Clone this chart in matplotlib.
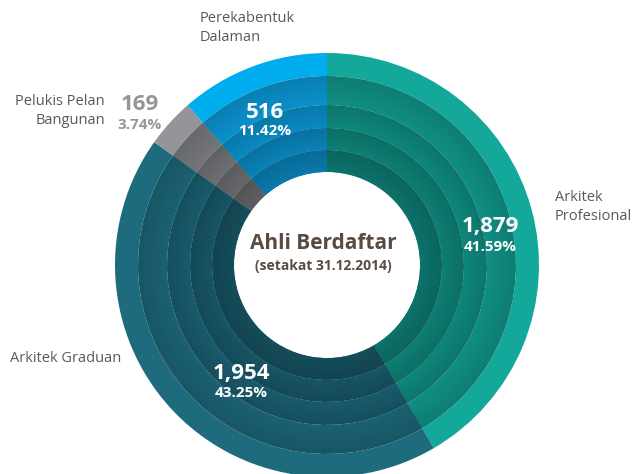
import matplotlib.pyplot as plt
import matplotlib.colors as mcolors
import numpy as np

plt.rcParams['font.family'] = ['Open Sans', 'DejaVu Sans']

# data
categories = ['Arkitek Profesional', 'Arkitek Graduan', 'Pelukis Pelan Bangunan', 'Perekabentuk Dalaman']
counts = [1879, 1954, 169, 516]
count_labels = ['1,879', '1,954', '169', '516']
percent_labels = ['41.59%', '43.25%', '3.74%', '11.42%']

# colours: outer band, then the four inner bands (outside -> inside)
outer_colors = ['#13a89a', '#1d6b7d', '#939598', '#00aeef']
inner_colors = [
    ['#0f8b80', '#0e8378', '#0d7b71', '#0c7068'],
    ['#1a5f6f', '#185868', '#165262', '#144b59'],
    ['#727376', '#6b6c6f', '#646568', '#5c5d60'],
    ['#0a8dc6', '#0986bd', '#097eb3', '#0976a8'],
]

W, H = 632, 474
cx, cy = 327, H - 265
r_hole = 93
radii = [115, 137, 160, 189, 212]   # band edges, inside -> outside

fig = plt.figure(figsize=(W / 100, H / 100), dpi=100)
ax = fig.add_axes([0, 0, 1, 1])


def shade(c, f):
    rgb = np.array(mcolors.to_rgb(c))
    return np.clip(rgb * f, 0, 1)


# outer band
ax.pie(counts, radius=radii[4], center=(cx, cy), startangle=90, counterclock=False,
       colors=outer_colors, wedgeprops=dict(width=radii[4] - radii[3], linewidth=0))

# inner bands, each with a soft shadow towards its outer edge
edges = [r_hole] + radii[:4]
for b in range(4):
    r_in = edges[3 - b]
    r_out = edges[4 - b]
    steps = 24
    for s in range(steps):
        t = s / (steps - 1)
        r1 = r_out - (r_out - r_in) * s / steps
        cols = [shade(inner_colors[k][b], 0.9 + 0.12 * t) for k in range(4)]
        w = (r_out - r_in) / steps + (0.8 if s < steps - 1 else 0)
        ax.pie(counts, radius=r1, center=(cx, cy), startangle=90, counterclock=False,
               colors=cols, wedgeprops=dict(width=w, linewidth=0))

ax.set_xlim(0, W)
ax.set_ylim(0, H)
ax.set_aspect('equal')
ax.axis('off')

# centre title
ax.text(cx - 4, H - 243, 'Ahli Berdaftar', ha='center', va='center', fontsize=15,
        fontweight='bold', color='#594a42')
ax.text(cx - 4, H - 266, '(setakat 31.12.2014)', ha='center', va='center', fontsize=10,
        fontweight='bold', color='#594a42')

# values on the ring
value_pos = [(490, 226, 247), (241, 373, 393), (140, 104, 125), (265, 112, 131)]
value_col = ['white', 'white', '#939598', 'white']
for i in range(4):
    x, y1, y2 = value_pos[i]
    ax.text(x, H - y1, count_labels[i], ha='center', va='center', fontsize=16,
            fontweight='bold', color=value_col[i])
    ax.text(x, H - y2, percent_labels[i], ha='center', va='center', fontsize=11,
            fontweight='bold', color=value_col[i])

# category labels
lab_col = '#58595b'
ax.text(555, H - 207, 'Arkitek\nProfesional', ha='left', va='center', fontsize=10.5,
        color=lab_col, linespacing=1.3)
ax.text(10, H - 359, 'Arkitek Graduan', ha='left', va='center', fontsize=10.5,
        color=lab_col)
ax.text(105, H - 111, 'Pelukis Pelan\nBangunan', ha='right', va='center', fontsize=10.5,
        color=lab_col, linespacing=1.3)
ax.text(200, H - 28, 'Perekabentuk\nDalaman', ha='left', va='center', fontsize=10.5,
        color=lab_col, linespacing=1.3)

fig.savefig('out.png', dpi=100)
